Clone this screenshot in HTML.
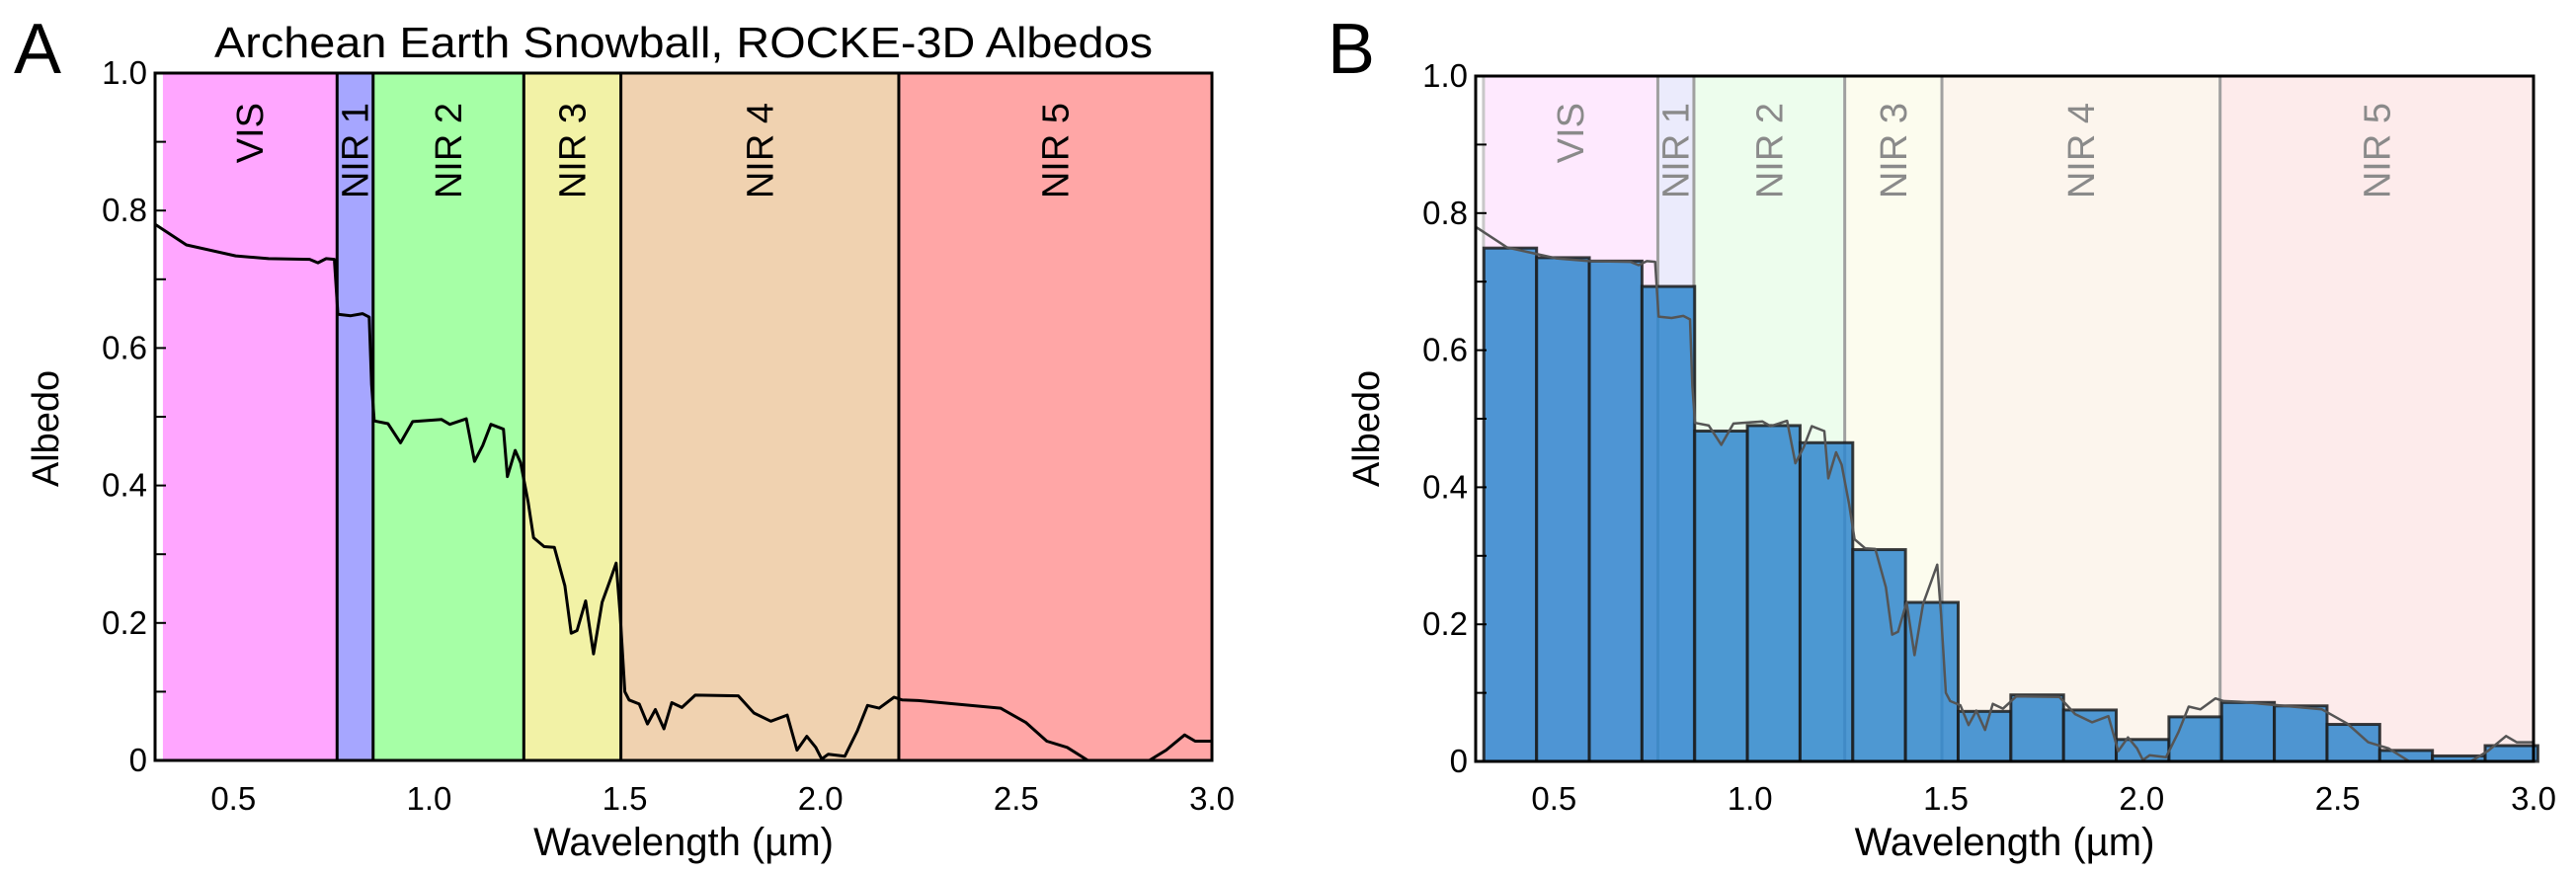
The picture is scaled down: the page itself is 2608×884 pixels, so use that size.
<!DOCTYPE html>
<html><head><meta charset="utf-8"><style>
html,body{margin:0;padding:0;background:#fff}
svg{display:block}
text{font-family:"Liberation Sans Narrow","Liberation Sans",sans-serif}
.band{font-family:"Liberation Sans",sans-serif}
</style></head><body>
<svg id="fig" width="2608" height="884" viewBox="0 0 2608 884" xmlns="http://www.w3.org/2000/svg"></svg>
<script>
// ---- data ----
const bandNames = ["VIS","NIR 1","NIR 2","NIR 3","NIR 4","NIR 5"];
const bandEdges = [0.32,0.765,0.857,1.242,1.49,2.2,3.0];
const curveWl = [0.30,0.38,0.506,0.59,0.695,0.716,0.737,0.758,0.767,0.80,0.83,0.847,0.853,0.86,0.895,0.927,0.958,1.032,1.053,1.095,1.116,1.137,1.158,1.19,1.20,1.22,1.234,1.253,1.267,1.294,1.32,1.347,1.363,1.378,1.40,1.42,1.442,1.463,1.478,1.488,1.50,1.511,1.537,1.558,1.578,1.60,1.62,1.646,1.68,1.79,1.83,1.873,1.915,1.94,1.965,1.988,2.003,2.02,2.062,2.094,2.12,2.15,2.188,2.209,2.25,2.46,2.525,2.578,2.63,2.683,2.84,2.883,2.93,2.957,3.0];
const curveAlb = [0.780,0.750,0.734,0.730,0.729,0.724,0.730,0.729,0.649,0.647,0.650,0.645,0.547,0.494,0.490,0.462,0.493,0.496,0.489,0.497,0.435,0.458,0.489,0.482,0.413,0.451,0.433,0.376,0.324,0.311,0.310,0.254,0.185,0.189,0.232,0.155,0.230,0.263,0.287,0.214,0.100,0.088,0.082,0.053,0.074,0.046,0.084,0.077,0.095,0.094,0.069,0.057,0.066,0.015,0.035,0.019,0.002,0.009,0.006,0.043,0.080,0.076,0.092,0.088,0.087,0.076,0.055,0.028,0.019,0.0,0.0,0.015,0.037,0.028,0.028];
const binStart = 0.321, binWidth = 0.1345;
const binAlb = [0.749,0.735,0.730,0.693,0.482,0.490,0.465,0.309,0.232,0.073,0.097,0.075,0.032,0.065,0.086,0.081,0.054,0.016,0.008,0.023];
const yTicks = [0,0.2,0.4,0.6,0.8,1.0];
const yTickLabels = ["0","0.2","0.4","0.6","0.8","1.0"];
const xTicks = [0.5,1.0,1.5,2.0,2.5,3.0];
const xTickLabels = ["0.5","1.0","1.5","2.0","2.5","3.0"];

const NS="http://www.w3.org/2000/svg";
const svg=document.getElementById('fig');
function mk(tag,attrs,parent,txt){const e=document.createElementNS(NS,tag);for(const k in attrs)e.setAttribute(k,attrs[k]);if(txt!==undefined)e.textContent=txt;(parent||svg).appendChild(e);return e;}

function panel(P){
  const g=mk('g',{});
  
  
  const X=v=>P.L+(v-0.3)/2.7*(P.R-P.L);
  const Y=v=>P.B-v*(P.B-P.T);
  // bands
  for(let i=0;i<bandNames.length;i++){
    const r=mk('rect',{x:X(bandEdges[i]),y:P.T,width:X(bandEdges[i+1])-X(bandEdges[i]),height:P.B-P.T,fill:P.colors[i]},g);
    
    
  }
  for(let i=1;i<bandNames.length;i++){
    mk('line',{x1:X(bandEdges[i]),x2:X(bandEdges[i]),y1:P.T,y2:P.B,stroke:P.lineCol,'stroke-width':P.lineW},g);
  }
  if(P.faint){mk('line',{x1:X(bandEdges[0]),x2:X(bandEdges[0]),y1:P.T,y2:P.B,stroke:'#c8c8c8','stroke-width':3},g);}
  for(let i=0;i<bandNames.length;i++){
    const cx=(X(bandEdges[i])+X(bandEdges[i+1]))/2+13;
    const t=mk('text',{x:cx,y:104,transform:`rotate(-90 ${cx} 104)`,'text-anchor':'end','font-size':38,fill:P.labelCol,class:'band'},g,bandNames[i]);
    
    
  }
  // bars
  if(P.bars){
    for(let i=0;i<binAlb.length;i++){
      const x0=X(binStart+i*binWidth), x1=X(binStart+(i+1)*binWidth);
      const b=mk('rect',{x:x0,y:Y(binAlb[i]),width:x1-x0,height:Y(0)-Y(binAlb[i]),fill:'#2f86cc','fill-opacity':0.85,stroke:'#1c1c1c','stroke-opacity':0.85,'stroke-width':3},g);
      
      
    }
  }
  // curve
  let d='';
  for(let i=0;i<curveWl.length;i++)d+=(i?'L':'M')+X(curveWl[i]).toFixed(1)+','+Y(curveAlb[i]).toFixed(1);
  const cp=mk('path',{d:d,fill:'none',stroke:P.curveCol,'stroke-width':P.curveW,'stroke-linejoin':'round'},g);
  
  
  // frame
  mk('rect',{x:P.L,y:P.T,width:P.R-P.L,height:P.B-P.T,fill:'none',stroke:'#000','stroke-width':3},g);
  // y ticks (major + minor)
  for(let v=0.1;v<1.0;v+=0.1){mk('line',{x1:P.L,x2:P.L+11,y1:Y(v),y2:Y(v),stroke:'#000','stroke-width':2},g);}
  for(let i=0;i<yTicks.length;i++){
    const t=mk('text',{x:P.L-8,y:Y(yTicks[i])+11,'text-anchor':'end','font-size':33},g,yTickLabels[i]);
    
    
  }
  for(let i=0;i<xTicks.length;i++){
    const t=mk('text',{x:X(xTicks[i]),y:820,'text-anchor':'middle','font-size':33},g,xTickLabels[i]);
    
    
  }
  const xt=mk('text',{x:(P.L+P.R)/2,y:866,'text-anchor':'middle','font-size':40},g,'Wavelength (µm)');
  
  
  const yx=P.L-98, yy=434;
  const yt=mk('text',{x:yx,y:yy,transform:`rotate(-90 ${yx} ${yy})`,'text-anchor':'middle','font-size':38,class:'band'},g,'Albedo');
  
  
  const pl=mk('text',{x:P.letterX,y:74,'font-size':72,class:'band'},g,P.letter);
  
  
  return g;
}
panel({name:'panel-a',L:157,R:1227,T:74,B:770,colors:['#ffa6ff','#a6a6ff','#a6ffa6','#f2f2a6','#f0d2b0','#ffa6a6'],lineCol:'#000',lineW:3,labelCol:'#000',curveCol:'#000',curveW:3,bars:false,letter:'A',letterX:14});
panel({name:'panel-b',L:1494,R:2565,T:77,B:771,colors:['#fee9fe','#ebebfc','#edfded','#fcfcee','#fcf5ed','#fdebeb'],lineCol:'#a0a0a0',lineW:3,labelCol:'#8a8a8a',curveCol:'#555',curveW:2.5,bars:true,faint:true,letter:'B',letterX:1344});
const title=mk('text',{x:692,y:58,'text-anchor':'middle','font-size':44,textLength:950,lengthAdjust:'spacingAndGlyphs'},svg,'Archean Earth Snowball, ROCKE-3D Albedos');


</script>
</body></html>
